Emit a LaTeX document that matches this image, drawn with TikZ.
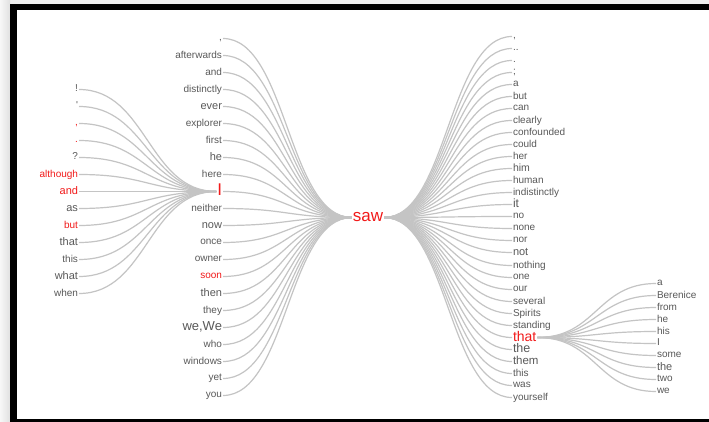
\documentclass[tikz,border=0pt]{standalone}
\usepackage{fontspec}
\newfontfamily\wf{Liberation Sans}
\definecolor{wgray}{HTML}{595959}
\definecolor{wred}{HTML}{F21A1A}
\definecolor{lgray}{HTML}{C4C4C4}
\tikzset{
  w/.style={text=wgray, inner sep=1pt, outer sep=0pt, yshift=-1.5pt, font=\wf\fontsize{10}{12}\selectfont, execute at begin node=\vphantom{Ay}},
  sz/.style={font=\wf\fontsize{#1}{#1}\selectfont},
  hot/.style={text=wred},
  lnk/.style={draw=lgray, line width=1.2pt, out=0, in=180, distance=#1},
}
\begin{document}
\begin{tikzpicture}[x=1pt, y=-1pt]
\useasboundingbox (0,0) rectangle (709,422);
% frame
\fill[white!94!black] (0,0) rectangle (709,422);
\shade[left color=white!97!black, right color=white!88!black] (0,0) rectangle (10,422);
\fill[white] (17,10) rectangle (709,419);
\fill[black] (10,4) rectangle (709,10);
\fill[black] (10,4) rectangle (17,422);
\fill[black] (10,419) rectangle (709,422);

% hub
\node[w, sz=17, hot] (saw) at (368,216) {saw};

% far-left group
\begin{scope}[every node/.append style={w, anchor=east}]
\node (fl1) at (79,88) {!};
\node (fl2) at (79,105) {'};
\node[hot] (fl3) at (79,122) {,};
\node[hot] (fl4) at (79,139) {.};
\node (fl5) at (79,156) {?};
\node[hot] (fl6) at (79,173) {although};
\node[hot, sz=11] (fl7) at (79,190) {and};
\node[sz=11] (fl8) at (79,207) {as};
\node[hot] (fl9) at (79,224) {but};
\node[sz=11] (fl10) at (79,241) {that};
\node (fl11) at (79,258) {this};
\node[sz=11] (fl12) at (79,275) {what};
\node (fl13) at (79,292) {when};
\end{scope}

% middle column
\begin{scope}[every node/.append style={w, anchor=east}]
\node (m1) at (223,37) {,};
\node (m2) at (223,54) {afterwards};
\node (m3) at (223,71) {and};
\node (m4) at (223,88) {distinctly};
\node[sz=11] (m5) at (223,105) {ever};
\node (m6) at (223,122) {explorer};
\node (m7) at (223,139) {first};
\node[sz=11] (m8) at (223,156) {he};
\node (m9) at (223,173) {here};
\node[sz=17, hot] (I) at (223,190) {I};
\node (m11) at (223,207) {neither};
\node[sz=11] (m12) at (223,224) {now};
\node (m13) at (223,241) {once};
\node (m14) at (223,258) {owner};
\node[hot] (m15) at (223,275) {soon};
\node[sz=11] (m16) at (223,292) {then};
\node (m17) at (223,309) {they};
\node[sz=13] (m18) at (223,326) {we,We};
\node (m19) at (223,343) {who};
\node (m20) at (223,360) {windows};
\node (m21) at (223,377) {yet};
\node (m22) at (223,394) {you};
\end{scope}

% right column
\begin{scope}[every node/.append style={w, anchor=west}]
\node (r0) at (512,35) {,};
\node (r1) at (512,47) {..};
\node (r2) at (512,59) {.};
\node (r3) at (512,71) {;};
\node (r4) at (512,83) {a};
\node (r5) at (512,95) {but};
\node (r6) at (512,107) {can};
\node (r7) at (512,119) {clearly};
\node (r8) at (512,131) {confounded};
\node (r9) at (512,143) {could};
\node (r10) at (512,155) {her};
\node[sz=10.5] (r11) at (512,167) {him};
\node (r12) at (512,179) {human};
\node (r13) at (512,191) {indistinctly};
\node[sz=12] (r14) at (512,203) {it};
\node (r15) at (512,215) {no};
\node (r16) at (512,227) {none};
\node (r17) at (512,239) {nor};
\node[sz=11] (r18) at (512,251) {not};
\node (r19) at (512,264) {nothing};
\node (r20) at (512,276) {one};
\node (r21) at (512,288) {our};
\node (r22) at (512,300) {several};
\node (r23) at (512,312) {Spirits};
\node (r24) at (512,324) {standing};
\node[sz=14, hot] (that) at (512,336) {that};
\node[sz=12.5] (r26) at (512,348) {the};
\node[sz=11.5] (r27) at (512,360) {them};
\node (r28) at (512,372) {this};
\node (r29) at (512,384) {was};
\node (r30) at (512,396) {yourself};
\end{scope}

% sub group of "that"
\begin{scope}[every node/.append style={w, anchor=west}]
\node (s1) at (656,282) {a};
\node (s2) at (656,294) {Berenice};
\node (s3) at (656,306) {from};
\node (s4) at (656,318) {he};
\node (s5) at (656,330) {his};
\node (s6) at (656,342) {I};
\node (s7) at (656,354) {some};
\node[sz=11] (s8) at (656,366) {the};
\node (s9) at (656,378) {two};
\node (s10) at (656,390) {we};
\end{scope}

% connectors
\foreach \n in {fl1,fl2,fl3,fl4,fl5,fl6,fl7,fl8,fl9,fl10,fl11,fl12,fl13}
  \draw[lnk=68pt] (\n.east) to (I.west);
\foreach \n in {m1,m2,m3,m4,m5,m6,m7,m8,m9,I,m11,m12,m13,m14,m15,m16,m17,m18,m19,m20,m21,m22}
  \draw[lnk=64pt] (\n.east) to (saw.west);
\foreach \n in {r0,r1,r2,r3,r4,r5,r6,r7,r8,r9,r10,r11,r12,r13,r14,r15,r16,r17,r18,r19,r20,r21,r22,r23,r24,that,r26,r27,r28,r29,r30}
  \draw[lnk=63pt] (saw.east) to (\n.west);
\foreach \n in {s1,s2,s3,s4,s5,s6,s7,s8,s9,s10}
  \draw[lnk=59pt] (that.east) to (\n.west);
\end{tikzpicture}
\end{document}
